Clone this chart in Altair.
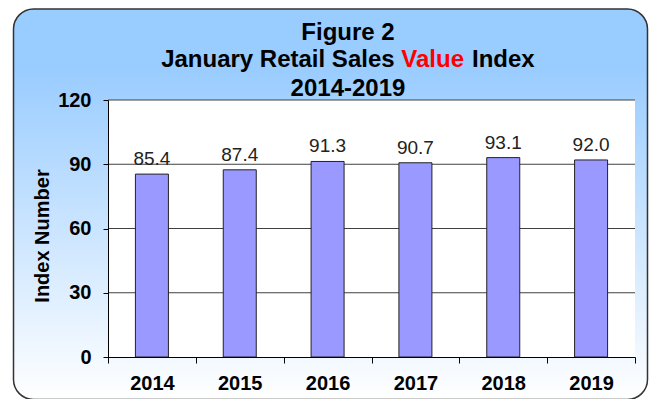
import altair as alt
import pandas as pd

# ---- data ----
years = ["2014", "2015", "2016", "2017", "2018", "2019"]
values = [85.4, 87.4, 91.3, 90.7, 93.1, 92.0]
grid_values = [30, 60, 90, 120]
y_ticks = [0, 30, 60, 90, 120]
title_line1 = "Figure 2"
title_line2_a = "January Retail Sales"
title_line2_b = "Value"
title_line2_c = "Index"
title_line3 = "2014-2019"

FONT = "Liberation Sans, Arial, sans-serif"
W, H = 527, 257

df = pd.DataFrame({"year": years, "value": values})
gdf = pd.DataFrame({"value": grid_values})
one = pd.DataFrame({"k": [0]})

yscale = alt.Scale(domain=[0, 120], nice=False, zero=True)
yaxis = alt.Axis(
    values=y_ticks, grid=False, zindex=1,
    domainColor="#000000", domainWidth=1,
    tickColor="#000000", tickSize=5, labelPadding=12,
    labelFont=FONT, labelFontSize=20, labelFontWeight="bold", labelColor="#000000",
    title="Index Number", titleFont=FONT, titleFontSize=20, titleFontWeight="bold",
    titleColor="#000000", titleAngle=270, titleBaseline="alphabetic",
    titleX=-60, titleY=135.5,
)
xaxis = alt.Axis(
    title=None, zindex=1, labelAngle=0,
    domainColor="#000000", domainWidth=1,
    tickColor="#000000", tickSize=6, tickBand="extent", labelPadding=10,
    labelFont=FONT, labelFontSize=20, labelFontWeight="bold", labelColor="#000000",
)
xscale = alt.Scale(paddingInner=0, paddingOuter=0)

grad = alt.LinearGradient(
    gradient="linear", x1=0, x2=0, y1=0, y2=1,
    stops=[
        alt.GradientStop(color="#99CCFF", offset=0),
        alt.GradientStop(color="#99CCFF", offset=0.15),
        alt.GradientStop(color="#FFFFFF", offset=1),
    ],
)

background = alt.Chart(one).mark_rect(
    fill=grad, stroke="#333333", strokeWidth=1.5, cornerRadius=20
).encode(
    x=alt.value(-94.5), x2=alt.value(539.5), y=alt.value(-91), y2=alt.value(299.5)
)

plot_bg = alt.Chart(one).mark_rect(fill="#FFFFFF").encode(
    x=alt.value(0), x2=alt.value(W), y=alt.value(0), y2=alt.value(H)
)

grid = alt.Chart(gdf).mark_rule(color="#404040", strokeWidth=1).encode(
    y=alt.Y("value:Q", scale=yscale, axis=yaxis),
    x=alt.value(0), x2=alt.value(W),
)

bars = alt.Chart(df).mark_bar(
    size=33, fill="#9999FF", stroke="#222222", strokeWidth=1
).encode(
    x=alt.X("year:N", scale=xscale, axis=xaxis, sort=years),
    y=alt.Y("value:Q", scale=yscale, axis=yaxis),
)

labels = alt.Chart(df).mark_text(
    baseline="alphabetic", dy=-9, font=FONT, fontSize=19, color="#222222"
).encode(
    x=alt.X("year:N", scale=xscale, axis=xaxis, sort=years),
    y=alt.Y("value:Q", scale=yscale, axis=yaxis),
    text=alt.Text("value:Q", format=".1f"),
)

def ttext(txt, x, y, align="center", color="#000000"):
    return alt.Chart(one).mark_text(
        text=txt, font=FONT, fontSize=24, fontWeight="bold",
        align=align, baseline="alphabetic", color=color,
    ).encode(x=alt.value(x), y=alt.value(y))

t1 = ttext(title_line1, 240, -59.7)
t2a = ttext(title_line2_a, 286.6, -33, align="right")
t2b = ttext(title_line2_b, 293.3, -33, align="left", color="#FF0000")
t2c = ttext(title_line2_c, 364, -33, align="left")
t3 = ttext(title_line3, 240, -4.5)

chart = alt.layer(
    background, plot_bg, grid, bars, labels, t1, t2a, t2b, t2c, t3
).properties(
    width=W, height=H,
    autosize=alt.AutoSizeParams(type="none"),
    padding={"left": 100, "top": 92, "right": 14, "bottom": 42},
).configure_view(strokeWidth=0).configure(background="#FFFFFF")

chart.save("out.html", embed_options={"renderer": "svg", "actions": False})
